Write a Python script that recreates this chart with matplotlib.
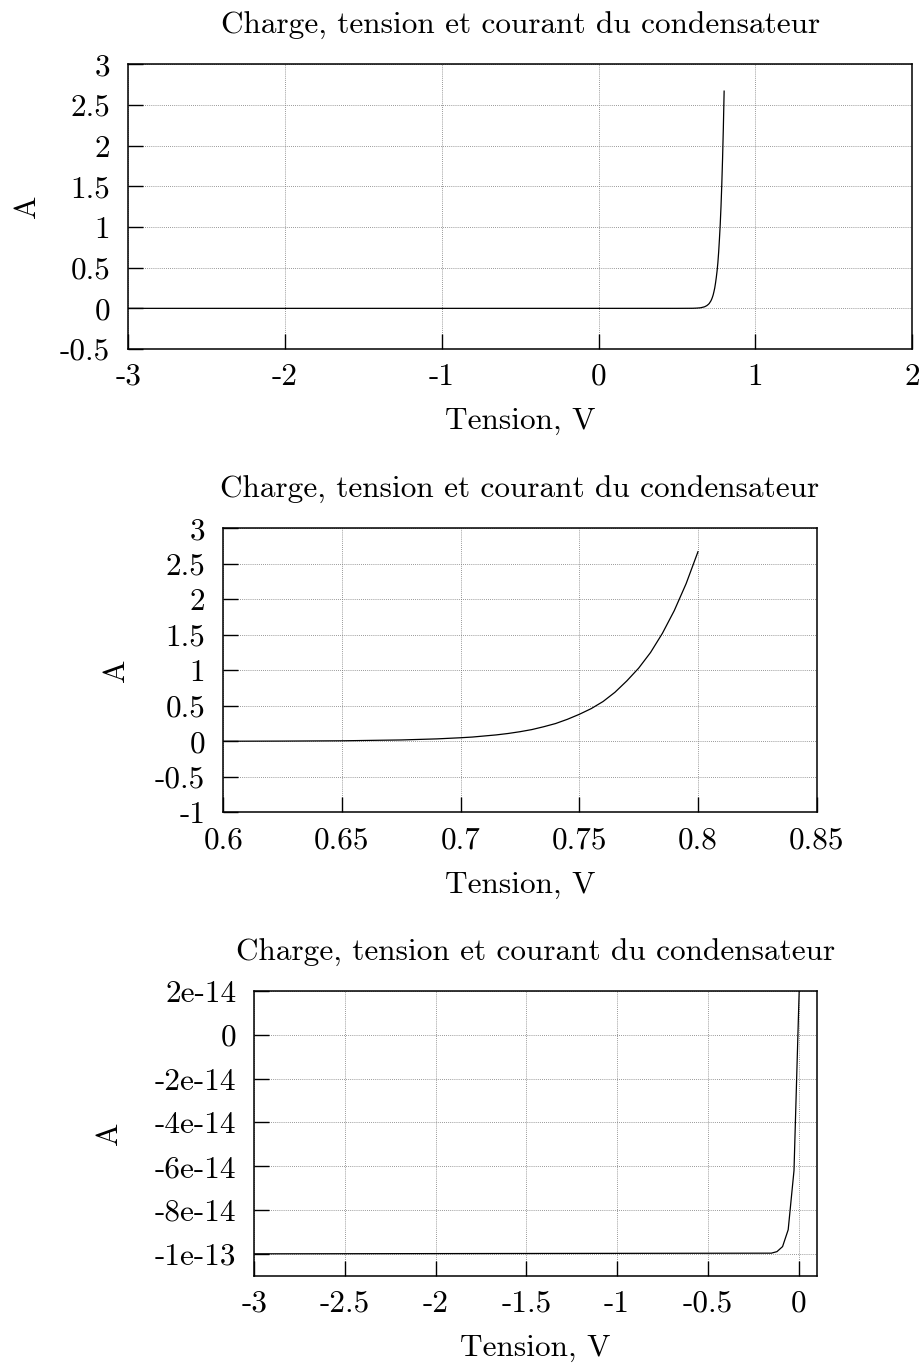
import matplotlib
matplotlib.use('Agg')
import matplotlib.pyplot as plt

# courbe directe
tension_v = [-3.0, 0.0, 0.5, 0.6, 0.625, 0.65, 0.675, 0.69, 0.70, 0.705, 0.71, 0.715,
             0.72, 0.725, 0.73, 0.735, 0.74, 0.745, 0.75, 0.755, 0.76, 0.765, 0.77,
             0.775, 0.78, 0.785, 0.79, 0.795, 0.80]
courant_a = [0.0, 0.0, 0.0001, 0.001, 0.003, 0.007, 0.019, 0.034, 0.05, 0.06, 0.075, 0.09,
             0.11, 0.135, 0.165, 0.205, 0.25, 0.31, 0.38, 0.46, 0.56, 0.69, 0.85,
             1.03, 1.25, 1.52, 1.84, 2.22, 2.67]

# courbe inverse
tension_inv = [-3.0, -0.15, -0.119, -0.088, -0.057, -0.025, 0.006]
courant_inv = [-1e-13, -0.997e-13, -0.99e-13, -0.967e-13, -0.89e-13, -0.62e-13, 0.27e-13]

x1_ticks = [-3, -2, -1, 0, 1, 2]
x1_labels = ['-3', '-2', '-1', '0', '1', '2']
y1_ticks = [-0.5, 0, 0.5, 1, 1.5, 2, 2.5, 3]
y1_labels = ['-0.5', '0', '0.5', '1', '1.5', '2', '2.5', '3']

x2_ticks = [0.6, 0.65, 0.7, 0.75, 0.8, 0.85]
x2_labels = ['0.6', '0.65', '0.7', '0.75', '0.8', '0.85']
y2_ticks = [-1, -0.5, 0, 0.5, 1, 1.5, 2, 2.5, 3]
y2_labels = ['-1', '-0.5', '0', '0.5', '1', '1.5', '2', '2.5', '3']

x3_ticks = [-3, -2.5, -2, -1.5, -1, -0.5, 0]
x3_labels = ['-3', '-2.5', '-2', '-1.5', '-1', '-0.5', '0']
y3_ticks = [-1e-13, -8e-14, -6e-14, -4e-14, -2e-14, 0, 2e-14]
y3_labels = ['-1e-13', '-8e-14', '-6e-14', '-4e-14', '-2e-14', '0', '2e-14']

plt.rcParams['font.family'] = 'cmr10'
plt.rcParams['axes.unicode_minus'] = False

fs = 22.5
titre = 'Charge, tension et courant du condensateur'

fig = plt.figure(figsize=(9.23, 13.65), dpi=100)


def style(ax, xlim, ylim, xt, xl, yt, yl, ypad):
    ax.set_xlim(xlim)
    ax.set_ylim(ylim)
    ax.set_xticks(xt)
    ax.set_xticklabels(xl)
    ax.set_yticks(yt)
    ax.set_yticklabels(yl)
    ax.tick_params(direction='in', length=11, width=1, pad=13, labelsize=fs)
    ax.tick_params(axis='x', pad=10)
    ax.grid(True, color='#777777', linestyle=(0, (1, 1.5)), linewidth=0.6)
    for s in ax.spines.values():
        s.set_linewidth(1.1)
    ax.set_title(titre, fontsize=fs, pad=22)
    ax.set_xlabel('Tension, V', fontsize=fs, labelpad=12)
    ax.set_ylabel('A', fontsize=fs, labelpad=ypad)


ax1 = fig.add_axes([0.139, 0.7443, 0.8494, 0.2086])
ax1.plot(tension_v, courant_a, color='black', linewidth=0.9)
style(ax1, (-3, 2), (-0.5, 3), x1_ticks, x1_labels, y1_ticks, y1_labels, 14)

ax2 = fig.add_axes([0.2419, 0.4049, 0.6429, 0.2081])
ax2.plot(tension_v, courant_a, color='black', linewidth=0.9)
style(ax2, (0.6, 0.85), (-1, 3), x2_ticks, x2_labels, y2_ticks, y2_labels, 18)

ax3 = fig.add_axes([0.2755, 0.0654, 0.6093, 0.2086])
ax3.plot(tension_inv, courant_inv, color='black', linewidth=0.9)
style(ax3, (-3, 0.1), (-1.1e-13, 2e-14), x3_ticks, x3_labels, y3_ticks, y3_labels, 23)

plt.savefig('out.png', dpi=100)
